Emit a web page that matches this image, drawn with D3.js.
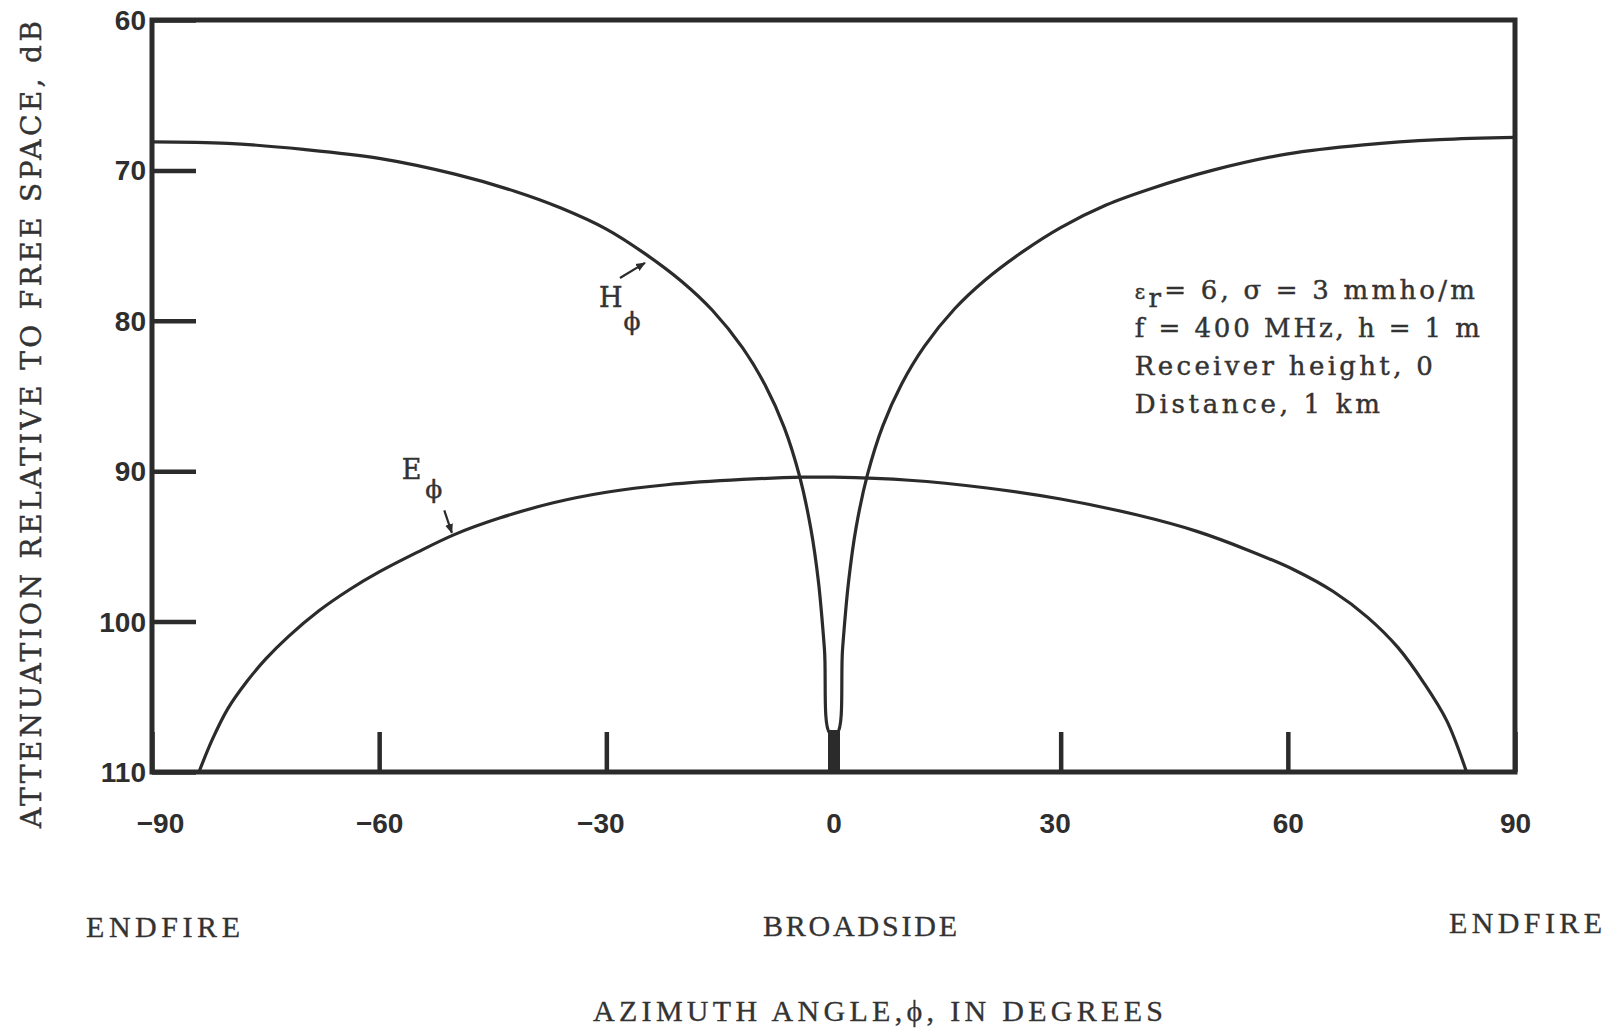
<!DOCTYPE html>
<html>
<head>
<meta charset="utf-8">
<script src="https://cdn.jsdelivr.net/npm/d3@7"></script>
<style>
  html, body { margin: 0; padding: 0; background: #fff; }
  svg { display: block; }
  .tick text { font-family: "Liberation Sans", Arial, sans-serif; font-weight: bold; font-size: 28px; fill: #2e2e2e; }
  .serif { font-family: "DejaVu Serif", "Liberation Serif", serif; fill: #333; stroke: #333; stroke-width: 0.45px; }
  .times { font-family: "Liberation Serif", "DejaVu Serif", serif; fill: #333; stroke: #333; stroke-width: 0.3px; }
</style>
</head>
<body>
<svg id="chart" width="1623" height="1028"></svg>
<script>
// Azimuth angle (degrees) and attenuation relative to free space (dB)
const hPhiAngle = [-90, -80, -70, -60, -50, -42, -36, -30, -25, -20, -16, -12, -9, -6.5, -4.5, -3, -2, -1.2, -0.5,
                   0.5, 1.2, 2, 3, 4.5, 6.5, 9, 12, 16, 20, 25, 30, 36, 42, 50, 60, 70, 80, 90];
const hPhiDb    = [68.1, 68.2, 68.6, 69.2, 70.25, 71.4, 72.5, 73.9, 75.5, 77.4, 79.3, 81.8, 84.3, 87.1, 90.3, 93.8, 97.3, 101.8, 107.4,
                   107.4, 101.8, 97.3, 93.7, 90.2, 87.0, 84.2, 81.7, 79.2, 77.3, 75.4, 73.8, 72.3, 71.2, 70.0, 68.9, 68.3, 67.95, 67.8];

const ePhiAngle = [-83.8, -82, -80, -77.5, -75, -72, -68, -64, -60, -55, -50, -44, -37, -30, -22, -12, -4, 0,
                   10, 20, 30, 40, 48, 55, 61, 66, 70.5, 74.5, 78, 81, 83.6];
const ePhiDb    = [110, 107.8, 105.8, 104.0, 102.5, 101.0, 99.3, 97.9, 96.7, 95.4, 94.2, 93.1, 92.1, 91.4, 90.9, 90.55, 90.4, 90.4,
                   90.6, 91.1, 91.85, 92.9, 94.0, 95.3, 96.6, 98.0, 99.7, 101.7, 104.1, 106.6, 110];

const xTickValues = [-90, -60, -30, 0, 30, 60, 90];
const yTickValues = [60, 70, 80, 90, 100, 110];

const noteLines = ["f = 400 MHz, h = 1 m", "Receiver height, 0", "Distance, 1 km"];

const svg = d3.select("#chart");
const ink = "#2b2b2b";

const x = d3.scaleLinear().domain([-90, 90]).range([152, 1515]);
const y = d3.scaleLinear().domain([60, 110]).range([20, 772]);

// Axes with inward ticks
const yAxis = d3.axisLeft(y).tickValues(yTickValues).tickSizeInner(-44).tickSizeOuter(0).tickPadding(6)
  .tickFormat(d => d);
const gy = svg.append("g").attr("transform", `translate(${x(-90)},0)`).call(yAxis);
gy.select(".domain").remove();
gy.selectAll(".tick line").attr("stroke", ink).attr("stroke-width", 4.5);
gy.selectAll(".tick text").attr("dy", "0.34em");

const xAxis = d3.axisBottom(x).tickValues(xTickValues).tickSizeInner(-40).tickSizeOuter(0).tickPadding(41)
  .tickFormat(d => d < 0 ? "\u2212" + Math.abs(d) : d);
const gx = svg.append("g").attr("transform", `translate(0,${y(110)})`).call(xAxis);
gx.select(".domain").remove();
gx.selectAll(".tick line").attr("stroke", ink).attr("stroke-width", d => d === 0 ? 12 : 4.5)
  .attr("y2", d => d === 0 ? -42 : -40);
gx.selectAll(".tick text").attr("dx", d => d === -90 ? 8 : (d === -30 || d === 30 ? -6 : 0));

// Frame
svg.append("rect")
  .attr("x", x(-90)).attr("y", y(60))
  .attr("width", x(90) - x(-90)).attr("height", y(110) - y(60))
  .attr("fill", "none").attr("stroke", ink).attr("stroke-width", 5);

// Curves
const line = d3.line().x(d => x(d[0])).y(d => y(d[1])).curve(d3.curveCatmullRom.alpha(0.5));
const hData = hPhiAngle.map((a, i) => [a, hPhiDb[i]]);
const eData = ePhiAngle.map((a, i) => [a, ePhiDb[i]]);
svg.append("path").attr("d", line(hData)).attr("fill", "none").attr("stroke", ink).attr("stroke-width", 3.2);
svg.append("path").attr("d", line(eData)).attr("fill", "none").attr("stroke", ink).attr("stroke-width", 3.2);

// Arrowhead marker
svg.append("defs").append("marker")
  .attr("id", "arrow").attr("viewBox", "0 0 10 10").attr("refX", 9).attr("refY", 5)
  .attr("markerWidth", 4.5).attr("markerHeight", 4.5).attr("orient", "auto")
  .append("path").attr("d", "M0,1 L10,5 L0,9 z").attr("fill", ink);

// Curve labels
function curveLabel(letter, lx, ly, sx, sy, a0, a1) {
  svg.append("text").attr("class", "serif").attr("x", x(lx)).attr("y", y(ly))
    .attr("text-anchor", "middle").attr("font-size", 27).text(letter);
  svg.append("text").attr("class", "serif").attr("x", x(sx)).attr("y", y(sy))
    .attr("text-anchor", "middle").attr("font-size", 25).text("\u03D5");
  svg.append("line").attr("x1", x(a0[0])).attr("y1", y(a0[1])).attr("x2", x(a1[0])).attr("y2", y(a1[1]))
    .attr("stroke", ink).attr("stroke-width", 2.2).attr("marker-end", "url(#arrow)");
}
curveLabel("H", -29.4, 79.1, -26.6, 80.6, [-28.2, 77.15], [-24.9, 76.15]);
curveLabel("E", -55.7, 90.5, -52.8, 91.8, [-51.4, 92.6], [-50.4, 94.1]);

// Parameter note
const noteX = x(39.8);
const t1 = svg.append("text").attr("class", "serif").attr("x", noteX).attr("y", y(78.55))
  .attr("font-size", 26).attr("textLength", 340).attr("lengthAdjust", "spacing");
t1.append("tspan").attr("font-size", 20).text("\u03B5");
t1.append("tspan").attr("dy", 8).text("r");
t1.append("tspan").attr("dy", -8).text("= 6,  \u03C3 = 3 mmho/m");
const noteWidths = [345, 298, 245];
noteLines.forEach((s, i) => {
  svg.append("text").attr("class", "serif").attr("x", noteX).attr("y", y(81.08 + i * 2.53))
    .attr("font-size", 26).attr("textLength", noteWidths[i]).attr("lengthAdjust", "spacing").text(s);
});

// Y axis title
svg.append("text").attr("class", "serif")
  .attr("transform", "translate(41,424.5) rotate(-90)")
  .attr("text-anchor", "middle").attr("font-size", 28)
  .attr("textLength", 807).attr("lengthAdjust", "spacing")
  .text("ATTENUATION RELATIVE TO FREE SPACE, dB");

// Bottom labels
const bottom = [
  { s: "ENDFIRE", x: 86, y: 937, w: 154 },
  { s: "BROADSIDE", x: 763, y: 936, w: 194 },
  { s: "ENDFIRE", x: 1449, y: 933, w: 153 },
  { s: "AZIMUTH ANGLE,\u03D5, IN DEGREES", x: 593, y: 1021, w: 570 }
];
bottom.forEach(b => {
  svg.append("text").attr("class", "times").attr("x", b.x).attr("y", b.y)
    .attr("font-size", 30).attr("textLength", b.w).attr("lengthAdjust", "spacing").text(b.s);
});
</script>
</body>
</html>
